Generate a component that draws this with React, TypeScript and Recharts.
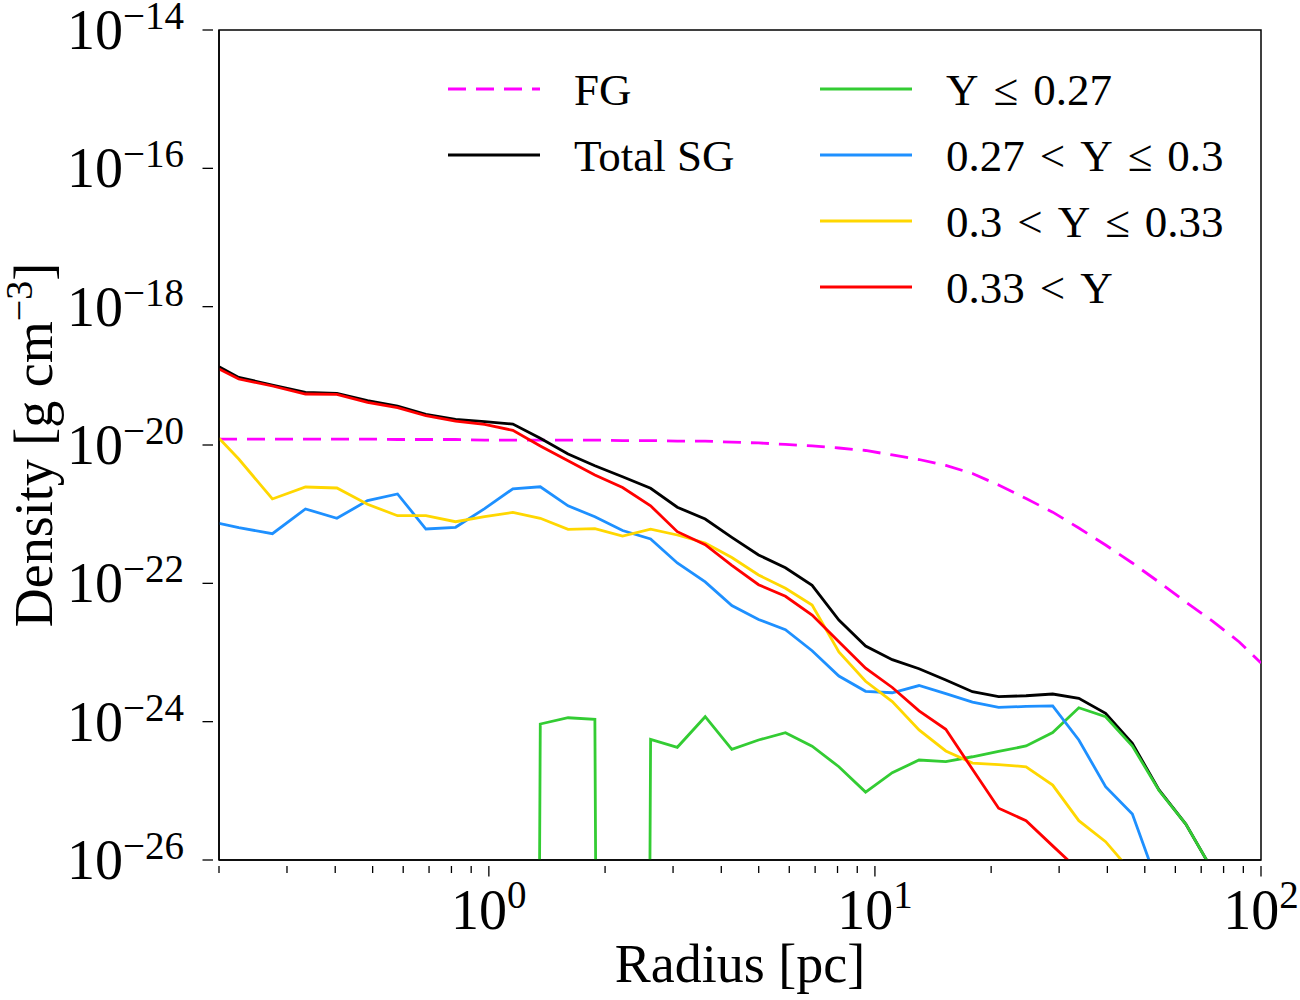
import { LineChart, Line, XAxis, YAxis, ReferenceArea } from "recharts";

const RADIUS = [
  0.2, 0.225, 0.275, 0.335, 0.404, 0.485, 0.58, 0.687, 0.82, 0.975,
  1.154, 1.359, 1.604, 1.882, 2.22, 2.624, 3.077, 3.634, 4.259, 4.996,
  5.864, 6.875, 8.065, 9.459, 11.09, 13.01, 15.26, 17.89, 20.91, 24.63,
  28.87, 33.74, 39.58, 46.43, 54.43, 63.86, 74.89, 87.83, 100,
];

// empty bins (zero density): matplotlib clips them far below the axis
const EMPTY = 1e-100;

const FG = [
  1.22e-20, 1.22e-20, 1.22e-20, 1.22e-20, 1.22e-20, 1.22e-20, 1.2e-20, 1.2e-20, 1.2e-20, 1.18e-20,
  1.18e-20, 1.18e-20, 1.18e-20, 1.18e-20, 1.16e-20, 1.16e-20, 1.14e-20, 1.14e-20, 1.1e-20, 1.07e-20,
  1.02e-20, 9.68e-21, 9.05e-21, 8.33e-21, 7.17e-21, 6.17e-21, 5.06e-21, 3.87e-21, 2.64e-21, 1.68e-21,
  1.07e-21, 6.31e-22, 3.58e-22, 1.97e-22, 1.04e-22, 5.37e-23, 2.85e-23, 1.42e-23, 7.05e-24,
];

const TOTAL_SG = [
  1.35e-19, 9.5e-20, 7.36e-20, 5.78e-20, 5.59e-20, 4.37e-20, 3.66e-20, 2.78e-20, 2.35e-20, 2.17e-20,
  2.01e-20, 1.25e-20, 7.41e-21, 5.02e-21, 3.48e-21, 2.37e-21, 1.26e-21, 8.51e-22, 4.62e-22, 2.57e-22,
  1.68e-22, 9.37e-23, 2.95e-23, 1.24e-23, 7.87e-24, 5.83e-24, 4.0e-24, 2.71e-24, 2.3e-24, 2.37e-24,
  2.51e-24, 2.18e-24, 1.32e-24, 4.86e-25, 1.03e-25, 3.31e-26, 7.08e-27,
];

const Y_LOW = [
  EMPTY, EMPTY, EMPTY, EMPTY, EMPTY, EMPTY, EMPTY, EMPTY, EMPTY, EMPTY,
  EMPTY, 9.25e-25, 1.14e-24, 1.08e-24, EMPTY, 5.56e-25, 4.26e-25, 1.18e-24, 3.98e-25, 5.43e-25,
  6.92e-25, 4.41e-25, 2.23e-25, 9.6e-26, 1.83e-25, 2.79e-25, 2.65e-25, 3.11e-25, 3.72e-25, 4.45e-25,
  6.97e-25, 1.59e-24, 1.18e-24, 4.45e-25, 1.01e-25, 3.31e-26, 7.08e-27,
];

const Y_MID1 = [
  7.38e-22, 6.37e-22, 5.22e-22, 1.19e-21, 8.71e-22, 1.57e-21, 1.96e-21, 6.1e-22, 6.46e-22, 1.2e-21,
  2.33e-21, 2.49e-21, 1.32e-21, 9.18e-22, 5.81e-22, 4.38e-22, 1.97e-22, 1.05e-22, 4.78e-23, 3.0e-23,
  2.14e-23, 1.06e-23, 4.57e-24, 2.75e-24, 2.62e-24, 3.33e-24, 2.55e-24, 1.92e-24, 1.61e-24, 1.66e-24,
  1.69e-24, 5.43e-25, 1.15e-25, 4.62e-26, 3.97e-27,
];

const Y_MID2 = [
  1.25e-20, 6.28e-21, 1.66e-21, 2.47e-21, 2.39e-21, 1.39e-21, 9.5e-22, 9.5e-22, 7.78e-22, 9.18e-22,
  1.06e-21, 8.71e-22, 6.04e-22, 6.17e-22, 4.83e-22, 6.07e-22, 5.0e-22, 3.83e-22, 2.36e-22, 1.32e-22,
  8.48e-23, 4.86e-23, 1.02e-23, 3.84e-24, 1.95e-24, 7.59e-25, 3.77e-25, 2.52e-25, 2.4e-25, 2.23e-25,
  1.21e-25, 3.7e-26, 1.84e-26, 6.53e-27,
];

const Y_HIGH = [
  1.26e-19, 9.0e-20, 7.13e-20, 5.46e-20, 5.41e-20, 4.14e-20, 3.46e-20, 2.65e-20, 2.22e-20, 1.98e-20,
  1.63e-20, 9.66e-21, 5.93e-21, 3.68e-21, 2.43e-21, 1.32e-21, 5.58e-22, 3.62e-22, 1.82e-22, 9.55e-23,
  6.49e-23, 3.48e-23, 1.43e-23, 5.92e-24, 3.12e-24, 1.43e-24, 7.76e-25, 2.05e-25, 5.6e-26, 3.7e-26,
  1.6e-26, 7.1e-27,
];

const X_MAJOR = [1, 10, 100];
const X_MINOR = [
  0.2, 0.3, 0.4, 0.5, 0.6, 0.7, 0.8, 0.9,
  2, 3, 4, 5, 6, 7, 8, 9,
  20, 30, 40, 50, 60, 70, 80, 90,
];
const Y_TICKS = [1e-26, 1e-24, 1e-22, 1e-20, 1e-18, 1e-16, 1e-14];

// hair spaces around the relations mimic mathtext spacing
const SERIES = [
  { key: "fg", name: "FG", color: "#ff00ff", dash: "18 10", col: 0, row: 0 },
  { key: "total", name: "Total SG", color: "#000000", col: 0, row: 1 },
  { key: "low", name: "Y\u200a ≤ \u200a0.27", color: "#33cc33", col: 1, row: 0 },
  { key: "mid1", name: "0.27\u200a < \u200aY\u200a ≤ \u200a0.3", color: "#1e90ff", col: 1, row: 1 },
  { key: "mid2", name: "0.3\u200a < \u200aY\u200a ≤ \u200a0.33", color: "#ffd700", col: 1, row: 2 },
  { key: "high", name: "0.33\u200a < \u200aY", color: "#ff0000", col: 1, row: 3 },
];

const data = RADIUS.map((r, i) => ({
  r,
  fg: FG[i],
  total: TOTAL_SG[i],
  low: Y_LOW[i],
  mid1: Y_MID1[i],
  mid2: Y_MID2[i],
  high: Y_HIGH[i],
}));

const FONT = "'Liberation Serif', 'DejaVu Serif', serif";
const X_TICKS = [...X_MINOR, ...X_MAJOR].sort((a, b) => a - b);

function expLabel(v: number) {
  const e = Math.round(Math.log10(v));
  return e < 0 ? "\u2212" + Math.abs(e) : String(e);
}

function XTick({ x, y, payload }: any) {
  const v = payload.value;
  const major = X_MAJOR.includes(v);
  return (
    <g>
      <line x1={x} x2={x} y1={y} y2={y + (major ? 10.5 : 7)} stroke="#000" strokeWidth={1.3} />
      {major && (
        <text x={x} y={y + 63} textAnchor="middle" fontSize={56} fontFamily={FONT} fill="#000">
          <tspan>10</tspan>
          <tspan dy={-21} fontSize={39}>{expLabel(v)}</tspan>
        </text>
      )}
    </g>
  );
}

function YTick({ x, y, payload }: any) {
  return (
    <g>
      <line x1={x - 10.5} x2={x} y1={y} y2={y} stroke="#000" strokeWidth={1.3} />
      <text x={x - 29} y={y + 19} textAnchor="end" fontSize={56} fontFamily={FONT} fill="#000">
        <tspan>10</tspan>
        <tspan dy={-20} fontSize={39}>{expLabel(payload.value)}</tspan>
      </text>
    </g>
  );
}

function XTitle({ viewBox }: any) {
  return (
    <text x={viewBox.x + viewBox.width / 2} y={viewBox.y + 122} textAnchor="middle"
      fontSize={54} fontFamily={FONT} fill="#000">
      Radius [pc]
    </text>
  );
}

function YTitle({ viewBox }: any) {
  const x = viewBox.x + 52;
  const y = viewBox.y + viewBox.height / 2;
  return (
    <text x={x} y={y} transform={`rotate(-90 ${x} ${y})`} textAnchor="middle"
      fontSize={54} fontFamily={FONT} fill="#000">
      <tspan>Density [g cm</tspan>
      <tspan dy={-20} fontSize={38}>{"\u22123"}</tspan>
      <tspan dy={20}>]</tspan>
    </text>
  );
}

function LegendBox() {
  const colX = [448, 820];
  return (
    <svg width={1300} height={330} style={{ position: "absolute", left: 0, top: 0, pointerEvents: "none" }}>
      {SERIES.map((s) => {
        const x = colX[s.col];
        const y = 89 + s.row * 66;
        return (
          <g key={s.key}>
            <line x1={x} x2={x + 92} y1={y} y2={y} stroke={s.color} strokeWidth={2.8}
              strokeDasharray={s.dash} />
            <text x={x + 126} y={y + 16} fontSize={45} fontFamily={FONT} fill="#000">{s.name}</text>
          </g>
        );
      })}
    </svg>
  );
}

export default function App() {
  return (
    <div style={{ position: "absolute", left: 0, top: 0, width: 1300, height: 1000, background: "#fff" }}>
      <LineChart width={1300} height={1000} data={data} margin={{ top: 30, right: 39, bottom: 0, left: 0 }}>
        <XAxis dataKey="r" type="number" scale="log" domain={[0.2, 100]} allowDataOverflow
          ticks={X_TICKS} interval={0} tick={<XTick />} tickLine={false} tickMargin={0}
          height={140} axisLine={{ stroke: "#000", strokeWidth: 1.5 }} label={<XTitle />} />
        <YAxis type="number" scale="log" domain={[1e-26, 1e-14]} allowDataOverflow
          ticks={Y_TICKS} interval={0} tick={<YTick />} tickLine={false} tickMargin={0}
          width={219} axisLine={{ stroke: "#000", strokeWidth: 1.5 }} label={<YTitle />} />
        <ReferenceArea x1={0.2} x2={100} y1={1e-26} y2={1e-14} fill="none" stroke="#000"
          strokeWidth={1.5} fillOpacity={0} ifOverflow="visible" />
        {SERIES.map((s) => (
          <Line key={s.key} dataKey={s.key} type="linear" stroke={s.color} strokeWidth={2.8}
            strokeDasharray={s.dash} dot={false} activeDot={false} isAnimationActive={false} />
        ))}
      </LineChart>
      <LegendBox />
    </div>
  );
}
